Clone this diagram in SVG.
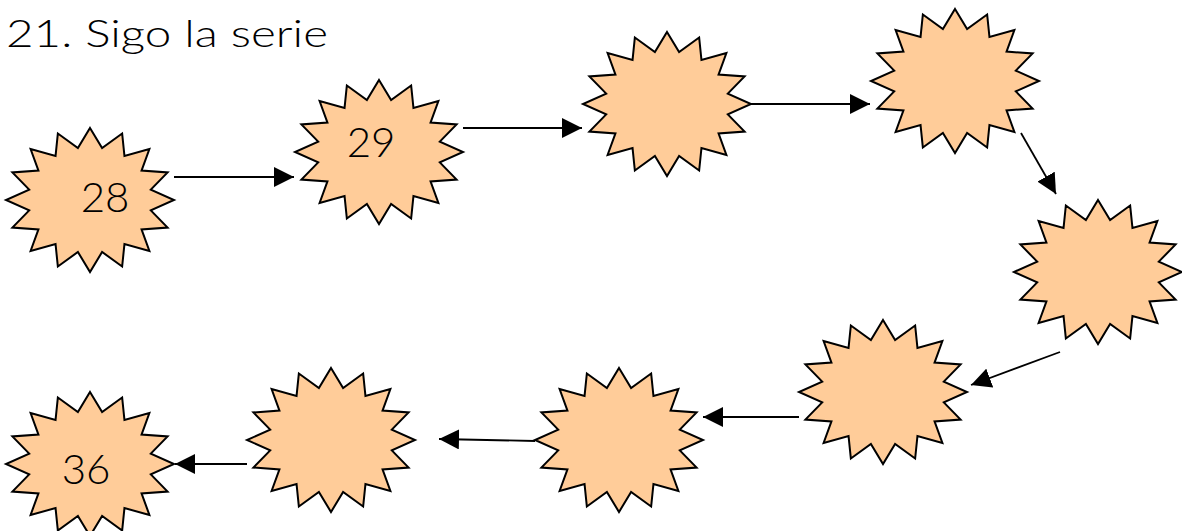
<svg xmlns="http://www.w3.org/2000/svg" xmlns:xlink="http://www.w3.org/1999/xlink" width="1182" height="531" viewBox="0 0 1182 531">
<style>
.star{fill:#FFCC99;stroke:#000;stroke-width:2;stroke-linejoin:miter}
.num{font-family:"Lato","Open Sans","Liberation Sans",sans-serif;font-weight:300;font-size:42px;fill:#000;text-anchor:middle}
.title{font-family:"Lato","Open Sans","Liberation Sans",sans-serif;font-weight:300;font-size:37px;fill:#000}
.conn line{stroke:#000;stroke-width:1.8;fill:none;marker-end:url(#arr)}
</style>
<defs>
<polygon id="star" points="0,-72 12.10,-51.98 32.15,-66.52 34.45,-44.07 59.40,-50.91 51.55,-29.45 77.61,-27.55 60.81,-10.34 84,0 60.81,10.34 77.61,27.55 51.55,29.45 59.40,50.91 34.45,44.07 32.15,66.52 12.10,51.98 0,72 -12.10,51.98 -32.15,66.52 -34.45,44.07 -59.40,50.91 -51.55,29.45 -77.61,27.55 -60.81,10.34 -84,0 -60.81,-10.34 -77.61,-27.55 -51.55,-29.45 -59.40,-50.91 -34.45,-44.07 -32.15,-66.52 -12.10,-51.98"/>
<marker id="arr" markerUnits="userSpaceOnUse" markerWidth="20" markerHeight="20" refX="20" refY="10" orient="auto" viewBox="0 0 20 20">
<path d="M0,0 L20,10 L0,20 Z" fill="#000"/>
</marker>
</defs>
<text class="title" x="6" y="47" textLength="322" lengthAdjust="spacingAndGlyphs">21. Sigo la serie</text>
<g id="node-28"><use xlink:href="#star" class="star" transform="translate(90,200)"/><text class="num" x="105" y="212">28</text></g>
<g id="node-29"><use xlink:href="#star" class="star" transform="translate(379,152)"/><text class="num" x="371" y="157">29</text></g>
<g id="node-3"><use xlink:href="#star" class="star" transform="translate(667,104)"/></g>
<g id="node-4"><use xlink:href="#star" class="star" transform="translate(955,81)"/></g>
<g id="node-5"><use xlink:href="#star" class="star" transform="translate(1098,272)"/></g>
<g id="node-6"><use xlink:href="#star" class="star" transform="translate(883,392)"/></g>
<g id="node-7"><use xlink:href="#star" class="star" transform="translate(619,440)"/></g>
<g id="node-8"><use xlink:href="#star" class="star" transform="translate(331,440)"/></g>
<g id="node-36"><use xlink:href="#star" class="star" transform="translate(90,464)"/><text class="num" x="86" y="484">36</text></g>
<g id="connectors" class="conn">
<line x1="174" y1="177" x2="294" y2="177"/>
<line x1="463" y1="128" x2="582" y2="128"/>
<line x1="750" y1="104" x2="870" y2="104"/>
<line x1="1021" y1="133" x2="1056" y2="194"/>
<line x1="1060" y1="352" x2="971" y2="385"/>
<line x1="799" y1="417" x2="703" y2="417"/>
<line x1="535" y1="441" x2="439" y2="439"/>
<line x1="247" y1="464" x2="175" y2="464"/>
</g>
</svg>
